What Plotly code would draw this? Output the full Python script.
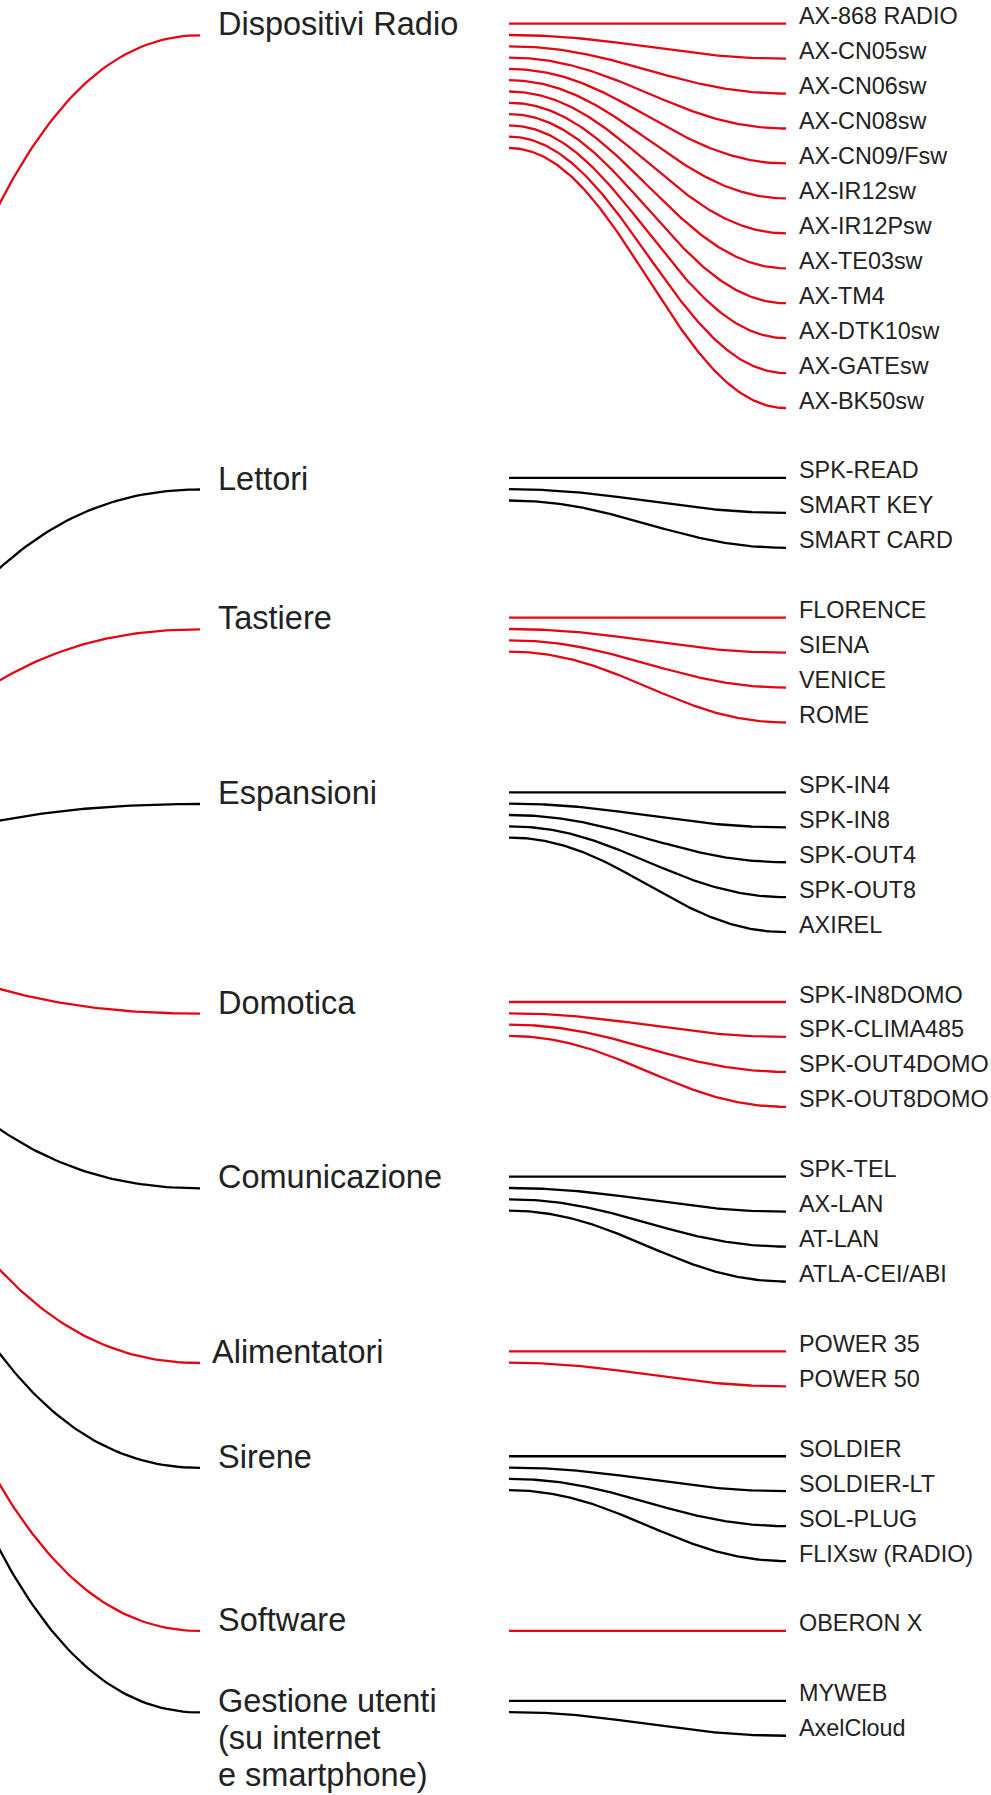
import numpy as np
import plotly.graph_objects as go

# ---------------- data ----------------
groups = [
    "Dispositivi Radio", "Lettori", "Tastiere", "Espansioni", "Domotica",
    "Comunicazione", "Alimentatori", "Sirene", "Software",
    "Gestione utenti\n(su internet\ne smartphone)",
]
radio = ["AX-868 RADIO", "AX-CN05sw", "AX-CN06sw", "AX-CN08sw", "AX-CN09/Fsw",
         "AX-IR12sw", "AX-IR12Psw", "AX-TE03sw", "AX-TM4", "AX-DTK10sw",
         "AX-GATEsw", "AX-BK50sw"]
lettori = ["SPK-READ", "SMART KEY", "SMART CARD"]
tastiere = ["FLORENCE", "SIENA", "VENICE", "ROME"]
espansioni = ["SPK-IN4", "SPK-IN8", "SPK-OUT4", "SPK-OUT8", "AXIREL"]
domotica = ["SPK-IN8DOMO", "SPK-CLIMA485", "SPK-OUT4DOMO", "SPK-OUT8DOMO"]
comunicazione = ["SPK-TEL", "AX-LAN", "AT-LAN", "ATLA-CEI/ABI"]
alimentatori = ["POWER 35", "POWER 50"]
sirene = ["SOLDIER", "SOLDIER-LT", "SOL-PLUG", "FLIXsw (RADIO)"]
software = ["OBERON X"]
gestione = ["MYWEB", "AxelCloud"]
children = [radio, lettori, tastiere, espansioni, domotica,
            comunicazione, alimentatori, sirene, software, gestione]

# ---------------- layout / style ----------------
W, H = 991, 1795
RED, BLACK, TEXT = "#e30613", "#000000", "#222222"
FONT = "Liberation Sans, Arial, sans-serif"
ROW0, ROW_H = 23.7, 34.94          # leaf row grid
START_STEP, PARENT_OFF = 11.3, 11.6
ROOT_X, ROOT_ROW = -410, 24.75
PARENT_X, PARENT_LABEL_X = 200, 218
LEAF_X0, LEAF_X1, LEAF_LABEL_X = 509, 786, 799
PFS, LFS = 32.5, 23.4              # font sizes
P_LINE = 37
LEAF_CTRL = 0.4                    # control-point fraction for leaf links


def link(x0, y0, x1, y1, c=0.5, n=160):
    t = np.linspace(0, 1, n)
    xa = x0 + c * (x1 - x0)
    xb = x1 - c * (x1 - x0)
    x = (1 - t) ** 3 * x0 + 3 * (1 - t) ** 2 * t * xa + 3 * (1 - t) * t ** 2 * xb + t ** 3 * x1
    y = ((1 - t) ** 3 + 3 * (1 - t) ** 2 * t) * y0 + (3 * (1 - t) * t ** 2 + t ** 3) * y1
    return list(x) + [None], list(y) + [None]


root_y = ROW0 + ROOT_ROW * ROW_H
lines = {RED: ([], []), BLACK: ([], [])}
leaf_x, leaf_y, leaf_t = [], [], []
par_x, par_y, par_t = [], [], []

row = 0
for gi, (g, kids) in enumerate(zip(groups, children)):
    col = RED if gi % 2 == 0 else BLACK
    first = ROW0 + row * ROW_H
    py = first + (PARENT_OFF if len(kids) > 1 else 0)
    lx, ly = link(ROOT_X, root_y, PARENT_X, py)
    lines[col][0].extend(lx); lines[col][1].extend(ly)
    for k, name in enumerate(kids):
        ye = ROW0 + row * ROW_H
        ys = first + k * START_STEP
        lx, ly = link(LEAF_X0, ys, LEAF_X1, ye, c=LEAF_CTRL)
        lines[col][0].extend(lx); lines[col][1].extend(ly)
        leaf_x.append(LEAF_LABEL_X)
        leaf_y.append(ye + 0.5 - 0.25 * LFS)   # baseline on the line end
        leaf_t.append(name)
        row += 1
    row += 1  # gap between groups
    dx = -6 if g == "Alimentatori" else 0
    for j, part in enumerate(g.split("\n")):
        par_x.append(PARENT_LABEL_X + dx)
        par_y.append(py + j * P_LINE - 0.25 * PFS)
        par_t.append(part)

fig = go.Figure()
for col, (xs, ys) in lines.items():
    fig.add_trace(go.Scatter(x=xs, y=ys, mode="lines",
                             line=dict(color=col, width=2.3),
                             hoverinfo="skip", showlegend=False))
fig.add_trace(go.Scatter(x=leaf_x, y=leaf_y, text=leaf_t, mode="text",
                         textposition="middle right", cliponaxis=False,
                         textfont=dict(family=FONT, size=LFS, color=TEXT),
                         hoverinfo="skip", showlegend=False))
fig.add_trace(go.Scatter(x=par_x, y=par_y, text=par_t, mode="text",
                         textposition="middle right", cliponaxis=False,
                         textfont=dict(family=FONT, size=PFS, color=TEXT),
                         hoverinfo="skip", showlegend=False))

fig.update_layout(
    width=W, height=H, margin=dict(l=0, r=0, t=0, b=0),
    paper_bgcolor="white", plot_bgcolor="white",
    xaxis=dict(range=[0, W], visible=False, fixedrange=True),
    yaxis=dict(range=[H, 0], visible=False, fixedrange=True),
)
fig.write_html("out.html", config={"displayModeBar": False},
               post_script="document.body.style.margin='0';document.body.style.overflow='hidden';")
